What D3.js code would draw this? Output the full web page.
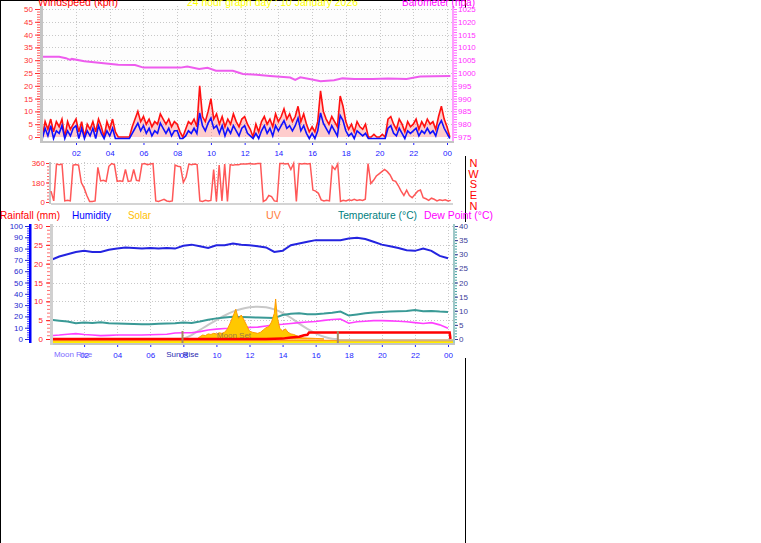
<!DOCTYPE html>
<html><head><meta charset="utf-8">
<script src="https://cdn.jsdelivr.net/npm/d3@7/dist/d3.min.js"></script>
<style>
body{margin:0;background:#fff;}
svg{display:block;font-family:"Liberation Sans",Arial,sans-serif;}
</style>
</head><body>
<svg id="c" width="761" height="543"></svg>
<script>
// ---------------- DATA ----------------
const hourTicks  = [2,4,6,8,10,12,14,16,18,20,22,24];
const hourLabels = ["02","04","06","08","10","12","14","16","18","20","22","00"];

const titleText = "24 hour graph day : 10 January 2026";

// wind (kph), one reading every 10 minutes from 00:00
const windStepMinutes = 10;
const windGust = [
 0,6,3,7,2,6,  4,7,0,6,3,5,  7,2,6,0,5,3,  6,2,7,4,0,6,
 3,7,2,0,0,0,  0,0,4,7,10,6, 8,5,7,4,6,5,  9,7,5,7,4,6,
 5,2,0,3,6,5,  7,4,20,8,6,10, 15,7,9,5,8,4, 7,5,9,6,4,7,
 8,5,3,0,5,2,  6,8,5,7,4,9,  6,8,11,7,9,6, 8,12,6,9,5,2,
 4,2,6,18,10,7, 5,8,6,4,16,12, 6,3,5,2,6,4, 3,5,0,0,1,0,
 0,1,0,7,8,5,  3,7,5,2,6,4,  5,7,3,6,4,7,  5,6,3,8,12,7,
 4,0];
const windSpeed = [
 0,4,1,5,0,3,  2,5,0,3,1,4,  5,0,4,0,3,1,  4,0,5,2,0,3,
 1,4,0,0,0,0,  0,0,2,4,6,3,  5,2,4,1,3,2,  6,4,2,4,1,3,
 3,0,0,1,3,2,  4,2,10,5,3,6, 8,4,5,2,5,1,  4,2,5,3,1,4,
 5,2,1,0,2,0,  3,5,2,4,1,5,  3,5,7,4,5,3,  5,8,3,5,2,0,
 2,0,3,10,6,4, 2,5,3,1,9,7,  3,1,2,0,3,2,  1,2,0,0,0,0,
 0,0,0,4,5,2,  1,4,2,0,3,2,  3,4,1,3,2,4,  2,3,1,5,7,4,
 2,0];

// barometer (hPa)
const baroHours  = [0,1,1.4,1.65,1.75,2.5,3.5,4.5,5.5,6,7.5,8.2,8.6,9.3,9.8,10.3,11.3,11.9,12.5,13.5,14.7,15.0,15.3,16.0,16.5,17.3,17.8,18.5,19.6,20.5,21.6,22.4,23.2,24.2];
const baroValues = [1006.4,1006.3,1005.8,1005.1,1005.5,1004.6,1003.9,1003.2,1003.1,1002.1,1002.1,1002.1,1002.5,1001.6,1002.0,1000.9,1000.9,999.6,999.4,998.8,998.2,997.3,998.3,997.5,996.8,997.2,997.9,997.7,997.7,997.9,997.7,998.6,998.7,998.8];

// wind direction (degrees), every 10 minutes
const dirStepMinutes = 10;
const windDir = [
 100,10,350,345,350,10,  15,10,340,345,340,180,  130,60,5,5,10,320,  195,200,190,330,355,345,
 190,195,190,300,190,195, 300,200,195,350,355,345, 350,355,10,5,15,25, 10,5,10,340,330,325,
 180,230,350,345,350,345, 10,5,15,10,15,300, 5,340,10,350,5,345, 340,345,345,350,350,350,
 355,350,350,355,355,5, 20,60,50,10,5,355, 355,350,355,300,355,5, 355,350,355,350,355,110,
 100,80,20,10,15,10, 330,300,350,5,15,10, 20,15,25,15,20,15, 25,355,170,200,240,260,
 280,300,280,250,200,190, 150,100,60,110,60,40, 70,100,110,40,30,15, 35,25,10,20,15,20,
 10,15];
const compassLetters = ["N","W","S","E","N"];

// half-hourly climate readings
const climateStepMinutes = 30;
const humidity = [70,73,75,77,78, 77,77,79,80,81, 80.5,80,80.5,80,80.5, 80,82.5,83.5,82,80.5, 83,83,84.5,83.5,83, 82,81,77,78,83, 84.5,86,87.5,87.5,87.5, 87.5,89,89.5,88.5,86, 83.5,82,80.5,78.5,78, 80,78,73.5,71.5];
const temperature = [6.8,6.5,6.2,5.6,5.8, 5.7,5.9,5.6,5.5,5.4, 5.3,5.2,5.2,5.4,5.5, 5.6,5.8,5.7,6.2,6.8, 7.3,7.6,7.9,7.8,7.7, 7.6,7.5,7.4,8.5,8.9, 9.1,8.8,8.8,9.0,9.3, 9.7,8.3,8.7,9.1,9.4, 9.6,9.7,9.8,9.9,10.3, 9.8,9.9,9.7,9.6];
const dewPoint = [1.2,1.4,1.7,1.9,1.6, 1.4,1.2,1.3,1.4,1.4, 1.4,1.4,1.5,1.6,1.7, 2.1,2.2,2.2,2.6,3.2, 3.5,3.7,3.8,4.0,4.1, 4.2,4.6,5.0,5.2,5.5, 5.8,6.0,6.2,6.6,6.9, 7.1,5.6,6.1,6.3,6.5, 6.5,6.4,6.3,6.1,5.8, 5.5,5.8,5.0,3.8];

// rainfall (mm, daily accumulation)
const rainHours  = [0,13.0,14.0,14.5,15.0,15.3,15.5,15.6,24.1,24.15];
const rainValues = [0,0,0.1,0.4,0.6,1.0,1.1,1.7,1.7,0];

// solar (W/m2) and theoretical max
const solarHours  = [8.83,9.0,9.17,9.33,9.5,9.67,9.83,10.0,10.17,10.33,10.5,10.67,10.83,11.0,11.17,11.33,11.5,11.67,11.83,12.0,12.17,12.33,12.5,12.67,12.83,13.0,13.17,13.33,13.5,13.58,13.67,13.83,14.0,14.17,14.33,14.5,14.67,14.83,15.0,15.17,15.5,16.0,16.5];
const solarValues = [0,20,35,30,45,40,50,45,55,50,60,90,140,200,263,180,212,168,120,70,60,55,50,60,80,100,110,150,227,354,200,95,70,90,60,45,40,30,20,10,8,5,0];
const solarMaxHours  = [7.95,8.5,9,9.5,10,10.5,11,11.5,12,12.5,13,13.5,14,14.5,15,15.5,16,16.5,17,17.34];
const solarMaxValues = [0,35,80,125,168,208,242,265,280,286,282,262,230,188,136,90,50,20,3,0];

const sunRiseHour = 7.95, sunSetHour = 17.34, moonRiseHour = 1.33, moonSetHour = 11.06;

// ---------------- DRAW ----------------
const svg = d3.select("#c");
const FONT = '"Liberation Sans",Arial,sans-serif';

// outer frame
svg.append("line").attr("x1",0.5).attr("x2",0.5).attr("y1",0).attr("y2",543).attr("stroke","#000");
svg.append("line").attr("x1",465.5).attr("x2",465.5).attr("y1",0).attr("y2",543).attr("stroke","#000");
svg.append("line").attr("x1",0).attr("x2",466).attr("y1",0.5).attr("y2",0.5).attr("stroke","#000");
// panel backgrounds that hide the frame
svg.append("rect").attr("x",1).attr("y",8).attr("width",478).attr("height",148).attr("fill","#fff");
svg.append("rect").attr("x",1).attr("y",222).attr("width",478).attr("height",136).attr("fill","#fff");

function label(x,y,s,color,size,len,anchor){
  const t = svg.append("text").attr("x",x).attr("y",y).text(s)
    .attr("fill",color).attr("font-size",size).attr("font-family",FONT)
    .attr("text-anchor",anchor||"start");
  if(len){ t.attr("textLength",len).attr("lengthAdjust","spacingAndGlyphs"); }
  return t;
}
function styleAxis(g,color,size){
  g.select(".domain").remove();
  g.selectAll(".tick line").attr("stroke",color);
  g.selectAll(".tick text").attr("fill",color).attr("font-size",size||8).attr("font-family",FONT);
}
function dotted(g,x1,y1,x2,y2){
  g.append("line").attr("x1",x1).attr("y1",y1).attr("x2",x2).attr("y2",y2)
   .attr("stroke","#c8c8c8").attr("stroke-dasharray","1,2").attr("stroke-width",1);
}
const fmtInt = d3.format("d");

// ===== Panel 1 : windspeed + barometer =====
const P1 = {l:43, r:452, t:6, b:141};
const xTop = d3.scaleLinear().domain([0,24]).range([42.3,447]);
const yWind = d3.scaleLinear().domain([0,50]).range([137,9]);
const yBaro = d3.scaleLinear().domain([975,1025]).range([137,9]);

const g1 = svg.append("g");
g1.append("rect").attr("x",P1.l).attr("y",P1.t).attr("width",P1.r-P1.l).attr("height",P1.b-P1.t).attr("fill","#fdfdfd");
d3.range(5,51,5).forEach(v=>dotted(g1,P1.l,Math.round(yWind(v))+0.5,P1.r,Math.round(yWind(v))+0.5));
hourTicks.forEach(h=>dotted(g1,Math.round(xTop(h))+0.5,P1.t,Math.round(xTop(h))+0.5,P1.b));

// left axis
g1.append("rect").attr("x",40).attr("y",P1.t).attr("width",3).attr("height",P1.b-P1.t+2).attr("fill","#c4c4c4");
g1.append("g").attr("transform","translate(40,0)")
  .call(d3.axisLeft(yWind).tickValues(d3.range(0,51,1)).tickSize(3).tickFormat(""))
  .call(g=>styleAxis(g,"#ff6060"));
g1.append("g").attr("transform","translate(40,0)")
  .call(d3.axisLeft(yWind).tickValues(d3.range(0,51,5)).tickSize(5).tickPadding(2).tickFormat(fmtInt))
  .call(g=>styleAxis(g,"#ff3030"));
// right axis
g1.append("rect").attr("x",452).attr("y",P1.t).attr("width",2).attr("height",P1.b-P1.t+2).attr("fill","#ff9cff");
g1.append("g").attr("transform","translate(454,0)")
  .call(d3.axisRight(yBaro).tickValues(d3.range(975,1026,1)).tickSize(3).tickFormat(""))
  .call(g=>styleAxis(g,"#ff60ff"));
g1.append("g").attr("transform","translate(454,0)")
  .call(d3.axisRight(yBaro).tickValues(d3.range(975,1026,5)).tickSize(0).tickPadding(4).tickFormat(fmtInt))
  .call(g=>styleAxis(g,"#ff30ff"));
// bottom axis
g1.append("rect").attr("x",P1.l).attr("y",P1.b).attr("width",P1.r-P1.l+2).attr("height",2).attr("fill","#c4c4c4");
g1.append("g").attr("transform",`translate(0,${P1.b+2})`)
  .call(d3.axisBottom(xTop).tickValues(hourTicks).tickSize(2).tickPadding(5).tickFormat((d,i)=>hourLabels[i]))
  .call(g=>styleAxis(g,"#2020ff"));

// series
const wx = i => xTop(i*windStepMinutes/60);
const clip1 = svg.append("clipPath").attr("id","clip1");
clip1.append("rect").attr("x",P1.l).attr("y",P1.t).attr("width",P1.r-P1.l).attr("height",P1.b-P1.t);
const s1 = g1.append("g").attr("clip-path","url(#clip1)");
s1.append("path").datum(baroValues)
  .attr("d",d3.line().x((d,i)=>xTop(baroHours[i])).y(d=>yBaro(d)))
  .attr("fill","none").attr("stroke","#ee5cee").attr("stroke-width",2);
s1.append("path").datum(windGust)
  .attr("d",d3.area().x((d,i)=>wx(i)).y0(yWind(0)).y1(d=>yWind(d)))
  .attr("fill","#ff7070").attr("fill-opacity",0.35).attr("stroke","none");
s1.append("path").datum(windGust)
  .attr("d",d3.line().x((d,i)=>wx(i)).y(d=>yWind(d)))
  .attr("fill","none").attr("stroke","#ff1010").attr("stroke-width",1.6);
s1.append("path").datum(windSpeed)
  .attr("d",d3.line().x((d,i)=>wx(i)).y(d=>yWind(d)+1.5))
  .attr("fill","none").attr("stroke","#1010ff").attr("stroke-width",1.6);

// titles
label(38,6,"Windspeed (kph)","#ff0000",11,80);
label(187,6,titleText,"#ffff00",11,171);
label(402,6,"Barometer (hpa)","#ff00ff",11,73);

// ===== Panel 2 : wind direction =====
const P2 = {l:51, r:453, t:162, b:203};
const xBot = d3.scaleLinear().domain([0,24]).range([51,448]);
const yDir = d3.scaleLinear().domain([0,360]).range([202,163]);
const g2 = svg.append("g");
g2.append("rect").attr("x",P2.l).attr("y",P2.t).attr("width",P2.r-P2.l).attr("height",P2.b-P2.t).attr("fill","#fff");
[180,360].forEach(v=>dotted(g2,P2.l,Math.round(yDir(v))+0.5,P2.r,Math.round(yDir(v))+0.5));
hourTicks.forEach(h=>dotted(g2,Math.round(xBot(h))+0.5,P2.t,Math.round(xBot(h))+0.5,P2.b));
g2.append("rect").attr("x",49).attr("y",P2.t).attr("width",2).attr("height",P2.b-P2.t+1).attr("fill","#c4c4c4");
g2.append("rect").attr("x",P2.l).attr("y",P2.b).attr("width",P2.r-P2.l).attr("height",2).attr("fill","#d4d4d4");
g2.append("g").attr("transform","translate(49,0)")
  .call(d3.axisLeft(yDir).tickValues(d3.range(0,361,30)).tickSize(2).tickFormat(""))
  .call(g=>styleAxis(g,"#ff6060"));
g2.append("g").attr("transform","translate(49,0)")
  .call(d3.axisLeft(yDir).tickValues([0,180,360]).tickSize(3).tickPadding(1).tickFormat(fmtInt))
  .call(g=>styleAxis(g,"#ff3030"));
g2.append("path").datum(windDir)
  .attr("d",d3.line().x((d,i)=>xBot(i*dirStepMinutes/60)).y(d=>yDir(d)))
  .attr("fill","none").attr("stroke","#ff3b3b").attr("stroke-opacity",0.85).attr("stroke-width",1.5);
compassLetters.forEach((c,i)=>label(473.5,167+i*10.7,c,"#ff0000",11,null,"middle"));

// ===== Panel 3 : temperature etc. =====
const P3 = {l:53, r:453, t:224, b:343};
const yRain = d3.scaleLinear().domain([0,30]).range([339,226]);
const yHum  = d3.scaleLinear().domain([0,100]).range([339,226]);
const yTemp = d3.scaleLinear().domain([0,40]).range([339,226]);
const ySol  = d3.scaleLinear().domain([0,1000]).range([339,226]);
const cx = i => xBot(i*climateStepMinutes/60);

// legend
label(0,219,"Rainfall (mm)","#ff0000",11,60);
label(72,219,"Humidity","#0000ff",11,39);
label(128,219,"Solar","#ffc000",11,23);
label(266,219,"UV","#ff8040",11,15);
label(338,219,"Temperature (°C)","#008080",11,79);
label(424,219,"Dew Point (°C)","#ff00ff",11,69);

const g3 = svg.append("g");
g3.append("rect").attr("x",P3.l).attr("y",P3.t).attr("width",P3.r-P3.l).attr("height",P3.b-P3.t).attr("fill","#fff");
d3.range(5,31,5).forEach(v=>dotted(g3,P3.l,Math.round(yRain(v))+0.5,P3.r,Math.round(yRain(v))+0.5));
hourTicks.forEach(h=>dotted(g3,Math.round(xBot(h))+0.5,P3.t,Math.round(xBot(h))+0.5,P3.b));

// humidity axis
g3.append("rect").attr("x",29).attr("y",P3.t).attr("width",2.5).attr("height",P3.b-P3.t).attr("fill","#0000ff");
g3.append("g").attr("transform","translate(29,0)")
  .call(d3.axisLeft(yHum).tickValues(d3.range(0,101,2)).tickSize(2).tickFormat(""))
  .call(g=>styleAxis(g,"#4040ff"));
g3.append("g").attr("transform","translate(29,0)")
  .call(d3.axisLeft(yHum).tickValues(d3.range(0,101,10)).tickSize(4).tickPadding(2).tickFormat(fmtInt))
  .call(g=>styleAxis(g,"#2828d0"));
// rain axis
g3.append("rect").attr("x",50).attr("y",P3.t).attr("width",3).attr("height",P3.b-P3.t+2).attr("fill","#d0d0d0");
g3.append("g").attr("transform","translate(50,0)")
  .call(d3.axisLeft(yRain).tickValues(d3.range(0,31,1)).tickSize(3).tickFormat(""))
  .call(g=>styleAxis(g,"#ff7070"));
g3.append("g").attr("transform","translate(50,0)")
  .call(d3.axisLeft(yRain).tickValues(d3.range(0,31,5)).tickSize(4).tickPadding(3).tickFormat(fmtInt))
  .call(g=>styleAxis(g,"#ff2020"));
// temperature axis
g3.append("rect").attr("x",453).attr("y",P3.t).attr("width",2).attr("height",P3.b-P3.t+2).attr("fill","#a0c8c8");
g3.append("g").attr("transform","translate(455,0)")
  .call(d3.axisRight(yTemp).tickValues(d3.range(0,41,1)).tickSize(2).tickFormat(""))
  .call(g=>styleAxis(g,"#40a0a0"));
g3.append("g").attr("transform","translate(455,0)")
  .call(d3.axisRight(yTemp).tickValues(d3.range(0,41,5)).tickSize(3).tickPadding(1).tickFormat(fmtInt))
  .call(g=>styleAxis(g,"#3c3c98"));
// x axis
g3.append("rect").attr("x",P3.l).attr("y",P3.b).attr("width",P3.r-P3.l+2).attr("height",2).attr("fill","#c4c4c4");
g3.append("g").attr("transform",`translate(0,${P3.b+2})`)
  .call(d3.axisBottom(xBot).tickValues(hourTicks).tickSize(2).tickPadding(5).tickFormat((d,i)=>hourLabels[i]))
  .call(g=>styleAxis(g,"#2525ff"));
label(xBot(moonRiseHour),357,"Moon Rise","#7b6cff",8,null,"middle");
label(xBot(sunRiseHour),357,"Sun Rise","#2a2ab0",8,null,"middle");

const clip3 = svg.append("clipPath").attr("id","clip3");
clip3.append("rect").attr("x",P3.l).attr("y",P3.t).attr("width",P3.r-P3.l).attr("height",P3.b-P3.t);
const s3 = g3.append("g").attr("clip-path","url(#clip3)");

// bottom bands
s3.append("line").attr("x1",P3.l).attr("x2",P3.r).attr("y1",342).attr("y2",342).attr("stroke","#ffee00").attr("stroke-width",2);
s3.append("line").attr("x1",P3.l).attr("x2",P3.r).attr("y1",340.6).attr("y2",340.6).attr("stroke","#ff9a20").attr("stroke-width",1.5);
s3.append("line").attr("x1",xBot(sunSetHour)).attr("x2",P3.r).attr("y1",340.2).attr("y2",340.2).attr("stroke","#d0b088").attr("stroke-width",2);

// theoretical solar
s3.append("path").datum(solarMaxValues)
  .attr("d",d3.line().curve(d3.curveMonotoneX).x((d,i)=>xBot(solarMaxHours[i])).y(d=>ySol(d)))
  .attr("fill","none").attr("stroke","#c8c8c8").attr("stroke-width",2);

// humidity, temperature, dew point
s3.append("path").datum(humidity)
  .attr("d",d3.line().x((d,i)=>cx(i)).y(d=>yHum(d)))
  .attr("fill","none").attr("stroke","#2424e0").attr("stroke-width",2);
s3.append("path").datum(temperature)
  .attr("d",d3.line().x((d,i)=>cx(i)).y(d=>yTemp(d)))
  .attr("fill","none").attr("stroke","#3a9a96").attr("stroke-width",2);
s3.append("path").datum(dewPoint)
  .attr("d",d3.line().x((d,i)=>cx(i)).y(d=>yTemp(d)))
  .attr("fill","none").attr("stroke","#ff40ff").attr("stroke-width",1.6);

// solar area
s3.append("path").datum(solarValues)
  .attr("d",d3.area().x((d,i)=>xBot(solarHours[i])).y0(ySol(0)).y1(d=>ySol(d)))
  .attr("fill","#ffc800").attr("stroke","#ff9a00").attr("stroke-width",1);

// rain
s3.append("path").datum(rainValues)
  .attr("d",d3.line().x((d,i)=>xBot(rainHours[i])).y(d=>yRain(d)))
  .attr("fill","none").attr("stroke","#ff0000").attr("stroke-width",2.5);

// sun markers
[sunRiseHour,sunSetHour].forEach(h=>{
  s3.append("line").attr("x1",xBot(h)).attr("x2",xBot(h)).attr("y1",331).attr("y2",344)
    .attr("stroke","#a88860").attr("stroke-width",2);
});
label(xBot(moonSetHour),338,"Moon Set","#a07848",8,null,"middle");
</script>
</body></html>
